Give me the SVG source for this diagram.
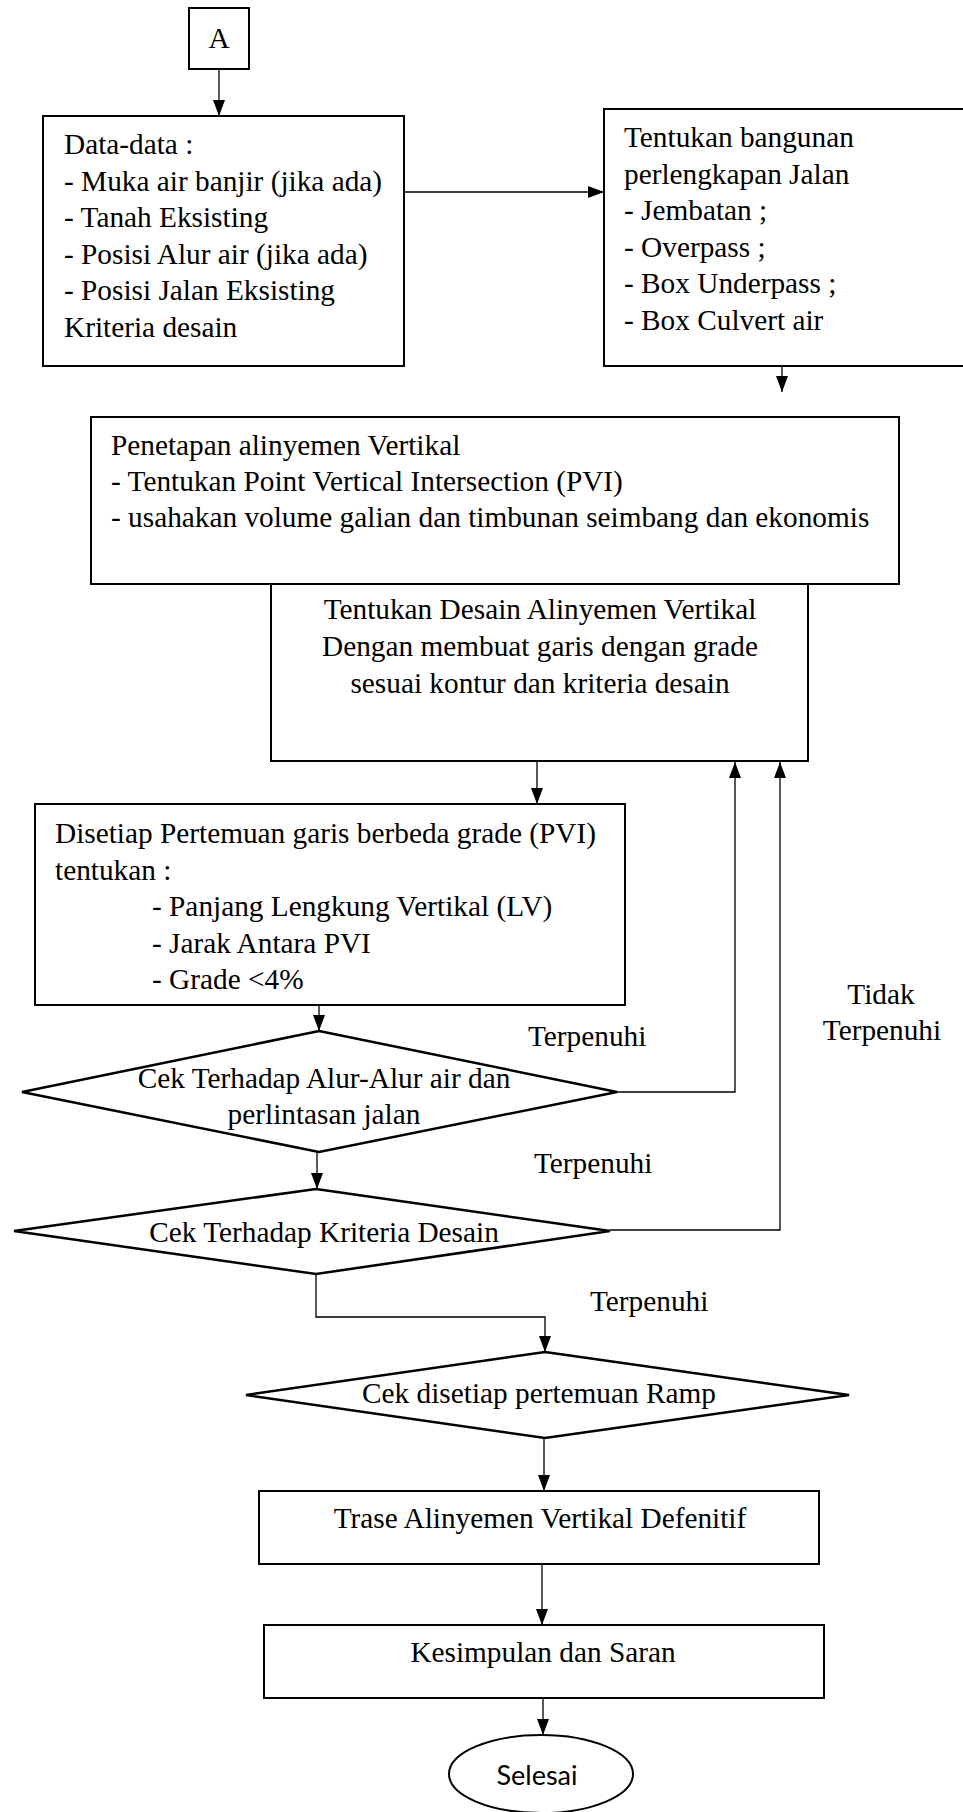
<svg xmlns="http://www.w3.org/2000/svg" width="963" height="1812" viewBox="0 0 963 1812">
<defs>
<style>
.box{fill:#fff;stroke:#000;stroke-width:2}
.dia{fill:#fff;stroke:#000;stroke-width:2.5}
.con{fill:none;stroke:#000;stroke-width:1.3}
.arr{marker-end:url(#ah)}
text{font-family:"Liberation Serif","Times New Roman",serif;font-size:29.3px;fill:#000}
.c{text-anchor:middle}
.sans{font-family:Lato,"Open Sans","Liberation Sans",sans-serif;font-size:27px}
</style>
<marker id="ah" markerUnits="userSpaceOnUse" markerWidth="16" markerHeight="12" refX="16" refY="6" orient="auto">
<path d="M0,0 L16,6 L0,12 z" fill="#000"/>
</marker>
</defs>
<rect width="963" height="1812" fill="#fff"/>

<g id="connectors">
<path class="con arr" d="M219,69 L219,116"/>
<path class="con arr" d="M404,192 L604,192"/>
<path class="con arr" d="M782,342 L782,392"/>
<path class="con arr" d="M537,761 L537,804"/>
<path class="con arr" d="M319,1005 L319,1031"/>
<path class="con arr" d="M617,1092 L735,1092 L735,762"/>
<path class="con arr" d="M317,1152 L317,1189"/>
<path class="con arr" d="M610,1230 L780,1230 L780,762"/>
<path class="con arr" d="M316,1274 L316,1317 L545,1317 L545,1352"/>
<path class="con arr" d="M544,1438 L544,1491"/>
<path class="con arr" d="M542,1564 L542,1625"/>
<path class="con arr" d="M543,1697 L543,1735"/>
</g>

<g id="nodeA">
<rect class="box" x="189" y="8" width="60" height="61"/>
<text class="c" x="219" y="48">A</text>
</g>

<g id="data">
<rect class="box" x="43" y="116" width="361" height="250"/>
<text x="64" y="154">Data-data :</text>
<text x="64" y="190.5">- Muka air banjir (jika ada)</text>
<text x="64" y="227">- Tanah Eksisting</text>
<text x="64" y="263.5">- Posisi Alur air (jika ada)</text>
<text x="64" y="300">- Posisi Jalan Eksisting</text>
<text x="64" y="336.5">Kriteria desain</text>
</g>

<g id="bangunan">
<rect class="box" x="604" y="109" width="375" height="257"/>
<text x="624" y="147">Tentukan bangunan</text>
<text x="624" y="183.5">perlengkapan Jalan</text>
<text x="624" y="220">- Jembatan ;</text>
<text x="624" y="256.5">- Overpass ;</text>
<text x="624" y="293">- Box Underpass ;</text>
<text x="624" y="329.5">- Box Culvert air</text>
</g>

<g id="penetapan">
<rect class="box" x="91" y="417" width="808" height="167"/>
<text x="111" y="455">Penetapan alinyemen Vertikal</text>
<text x="111" y="491">- Tentukan Point Vertical Intersection (PVI)</text>
<text x="111" y="527">- usahakan volume galian dan timbunan seimbang dan ekonomis</text>
</g>

<g id="desain">
<rect class="box" x="271" y="584" width="537" height="177"/>
<text class="c" x="540" y="619">Tentukan Desain Alinyemen Vertikal</text>
<text class="c" x="540" y="656">Dengan membuat garis dengan grade</text>
<text class="c" x="540" y="693">sesuai kontur dan kriteria desain</text>
</g>

<g id="disetiap">
<rect class="box" x="35" y="804" width="590" height="201"/>
<text x="55" y="843">Disetiap Pertemuan garis berbeda grade (PVI)</text>
<text x="55" y="879.5">tentukan :</text>
<text x="152" y="916">- Panjang Lengkung Vertikal (LV)</text>
<text x="152" y="952.5">- Jarak Antara PVI</text>
<text x="152" y="989">- Grade &lt;4%</text>
</g>

<g id="cek1">
<polygon class="dia" points="319,1031 617,1092 319,1152 22,1092"/>
<text class="c" x="324" y="1088">Cek Terhadap Alur-Alur air dan</text>
<text class="c" x="324" y="1124">perlintasan jalan</text>
</g>

<g id="cek2">
<polygon class="dia" points="316,1189 610,1231 316,1274 14,1231"/>
<text class="c" x="324" y="1242">Cek Terhadap Kriteria Desain</text>
</g>

<g id="cek3">
<polygon class="dia" points="545,1352 849,1395 545,1438 246,1395"/>
<text class="c" x="539" y="1403">Cek disetiap pertemuan Ramp</text>
</g>

<g id="trase">
<rect class="box" x="259" y="1491" width="560" height="73"/>
<text class="c" x="540" y="1528">Trase Alinyemen Vertikal Defenitif</text>
</g>

<g id="kesimpulan">
<rect class="box" x="264" y="1625" width="560" height="73"/>
<text class="c" x="543" y="1662">Kesimpulan dan Saran</text>
</g>

<g id="selesai">
<ellipse class="box" cx="541" cy="1774" rx="92" ry="39"/>
<text class="c sans" x="537" y="1785">Selesai</text>
</g>

<g id="labels">
<text x="528" y="1046">Terpenuhi</text>
<text x="534" y="1173">Terpenuhi</text>
<text x="590" y="1311">Terpenuhi</text>
<text class="c" x="881" y="1004">Tidak</text>
<text class="c" x="882" y="1040">Terpenuhi</text>
</g>
</svg>
